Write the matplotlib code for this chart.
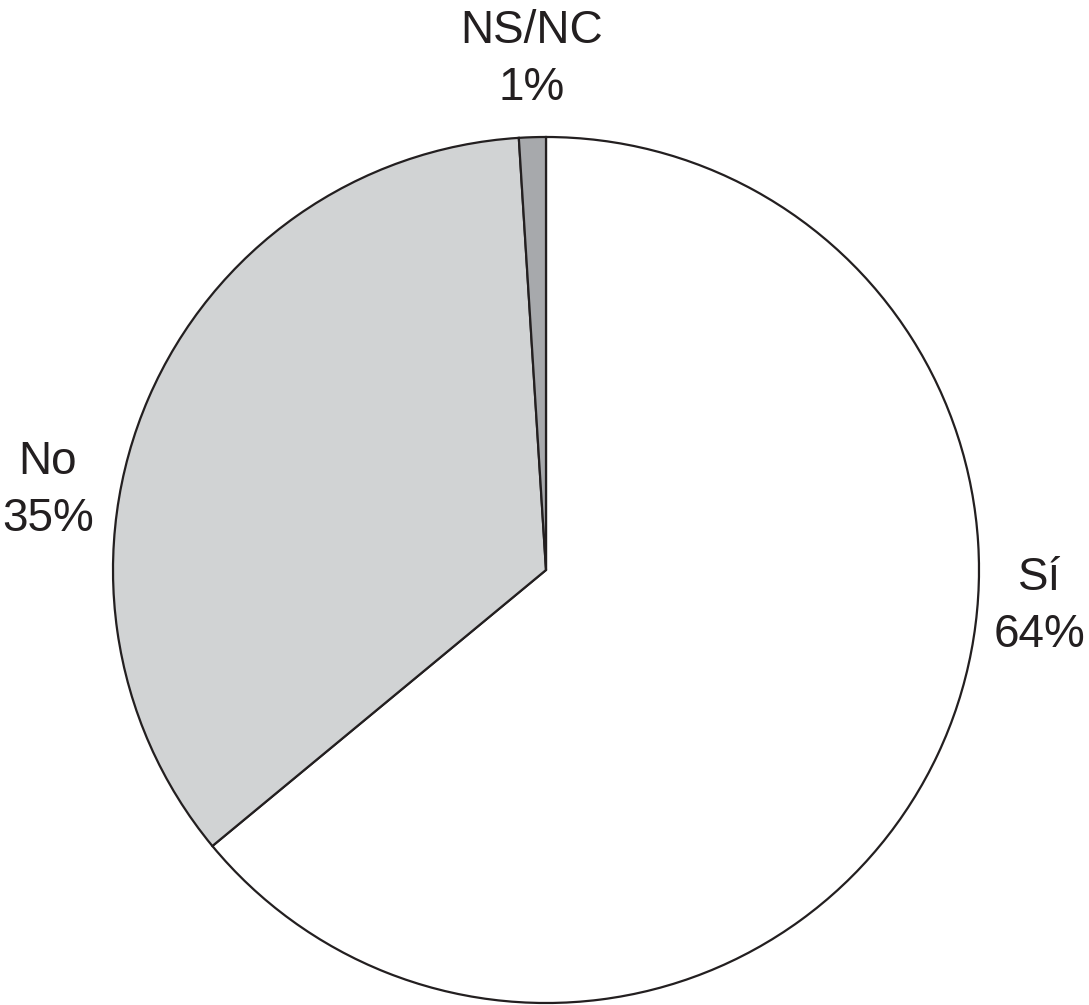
import matplotlib
matplotlib.use("Agg")
import matplotlib.pyplot as plt

labels = ["Sí", "No", "NS/NC"]
values = [64, 35, 1]
colors = ["#ffffff", "#d1d3d4", "#a7a9ac"]

W, H = 1089, 1005
fig = plt.figure(figsize=(W / 100, H / 100), dpi=100)
ax = fig.add_axes([0, 0, 1, 1])

cx, cy, r = 546, 570, 433
ax.pie(values, colors=colors, startangle=90, counterclock=False,
       radius=r, center=(cx, H - cy),
       wedgeprops=dict(edgecolor="#231f20", linewidth=1.6))
ax.set_xlim(0, W)
ax.set_ylim(0, H)
ax.set_aspect("auto")
ax.axis("off")

font = dict(family=["Liberation Sans", "DejaVu Sans"], fontsize=33, color="#231f20",
            ha="center", va="center")
pos = {"Sí": (1040, 578), "No": (48, 462), "NS/NC": (532, 31)}
for lab, v in zip(labels, values):
    x, y = pos[lab]
    ax.text(x, H - y, lab, **font)
    ax.text(x, H - (y + 57), f"{v}%", **font)

fig.savefig("out.png", dpi=100)
